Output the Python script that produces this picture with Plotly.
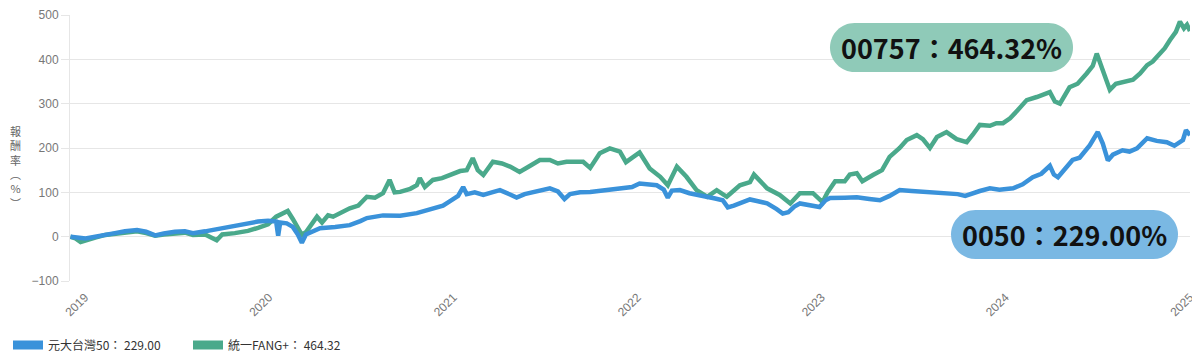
import plotly.graph_objects as go

# ---------------- data ----------------
dates_0050 = [
    "2019-01-02", "2019-01-17", "2019-02-01", "2019-02-20", "2019-03-12", "2019-03-31", "2019-04-20",
    "2019-05-14", "2019-06-01", "2019-06-19", "2019-07-06", "2019-07-28", "2019-08-17", "2019-09-02",
    "2019-09-26", "2019-10-15", "2019-11-05", "2019-11-28", "2019-12-20", "2020-01-09", "2020-01-29",
    "2020-02-14", "2020-02-18", "2020-02-22", "2020-03-06", "2020-03-18", "2020-03-28", "2020-04-05",
    "2020-04-13", "2020-04-25", "2020-05-11", "2020-06-10", "2020-07-09", "2020-07-30", "2020-08-12",
    "2020-09-13", "2020-10-17", "2020-11-19", "2020-12-21", "2021-01-10", "2021-01-24", "2021-02-09",
    "2021-02-19", "2021-02-26", "2021-03-14", "2021-03-31", "2021-04-17", "2021-05-03", "2021-05-23",
    "2021-06-05", "2021-06-21", "2021-07-08", "2021-07-25", "2021-08-10", "2021-08-26", "2021-09-08",
    "2021-09-19", "2021-10-09", "2021-10-29", "2021-11-17", "2021-12-07", "2022-01-02", "2022-01-20",
    "2022-02-04", "2022-02-24", "2022-03-10", "2022-03-24", "2022-04-01", "2022-04-09", "2022-04-25",
    "2022-05-14", "2022-05-28", "2022-06-18", "2022-07-04", "2022-07-19", "2022-07-29", "2022-08-10",
    "2022-08-22", "2022-09-11", "2022-09-27", "2022-10-15", "2022-11-03", "2022-11-15", "2022-11-26",
    "2022-12-08", "2022-12-19", "2023-01-08", "2023-01-27", "2023-02-08", "2023-02-17", "2023-03-18",
    "2023-04-11", "2023-05-06", "2023-05-27", "2023-06-15", "2023-07-05", "2023-07-29", "2023-08-20",
    "2023-09-13", "2023-10-06", "2023-10-28", "2023-11-12", "2023-11-21", "2023-12-11", "2023-12-31",
    "2024-01-19", "2024-02-15", "2024-03-05", "2024-03-25", "2024-04-11", "2024-04-28", "2024-05-06",
    "2024-05-14", "2024-05-27", "2024-06-12", "2024-06-26", "2024-07-16", "2024-08-01", "2024-08-11",
    "2024-08-21", "2024-08-31", "2024-09-19", "2024-10-03", "2024-10-18", "2024-11-07", "2024-11-26",
    "2024-12-16", "2024-12-31", "2025-01-17", "2025-01-23", "2025-01-31",
]
values_0050 = [
    0, -2, -4, 0, 5, 8, 12,
    15, 11, 3, 7, 11, 12, 8,
    12, 16, 21, 26, 29, 34, 36,
    34, 2, 32, 30, 22, 5, -14,
    5, 12, 19, 22, 26, 35, 42,
    48, 47, 53, 64, 70, 80, 92,
    112, 96, 100, 94, 100, 105, 95,
    88, 96, 100, 104, 109, 102, 85,
    96, 100, 101, 104, 106, 109, 112,
    120, 117, 116, 106, 88, 104, 105,
    98, 94, 90, 86, 82, 66, 70,
    76, 84, 80, 75, 62, 52, 55,
    68, 75, 72, 67, 82, 87, 88,
    89, 85, 82, 92, 105, 103, 101,
    100, 98, 96, 92, 96, 103, 109,
    106, 109, 118, 134, 142, 160, 140,
    134, 150, 173, 178, 206, 236, 210,
    172, 185, 195, 192, 199, 222, 216,
    213, 205, 218, 240, 229,
]

dates_00757 = [
    "2019-01-02", "2019-01-12", "2019-01-22", "2019-02-01", "2019-02-20", "2019-03-12", "2019-04-10",
    "2019-05-14", "2019-06-01", "2019-06-19", "2019-07-06", "2019-07-28", "2019-08-17", "2019-09-02",
    "2019-09-26", "2019-10-19", "2019-10-30", "2019-11-24", "2019-12-20", "2020-01-09", "2020-01-29",
    "2020-02-14", "2020-02-28", "2020-03-08", "2020-03-18", "2020-03-28", "2020-04-05", "2020-04-13",
    "2020-04-25", "2020-05-05", "2020-05-15", "2020-05-27", "2020-06-06", "2020-06-19", "2020-07-09",
    "2020-07-26", "2020-08-12", "2020-08-28", "2020-09-13", "2020-09-26", "2020-10-06", "2020-10-17",
    "2020-11-06", "2020-11-19", "2020-11-25", "2020-12-05", "2020-12-21", "2021-01-08", "2021-01-24",
    "2021-02-13", "2021-02-26", "2021-03-10", "2021-03-20", "2021-03-31", "2021-04-19", "2021-05-07",
    "2021-05-23", "2021-06-11", "2021-07-02", "2021-07-21", "2021-08-10", "2021-08-26", "2021-09-12",
    "2021-10-15", "2021-10-29", "2021-11-17", "2021-12-07", "2021-12-27", "2022-01-08", "2022-01-22",
    "2022-02-04", "2022-02-24", "2022-03-17", "2022-04-01", "2022-04-19", "2022-05-08", "2022-05-28",
    "2022-06-18", "2022-07-07", "2022-07-27", "2022-08-22", "2022-09-11", "2022-09-19", "2022-10-15",
    "2022-11-09", "2022-11-30", "2022-12-19", "2023-01-14", "2023-02-02", "2023-02-12", "2023-02-27",
    "2023-03-18", "2023-03-28", "2023-04-11", "2023-04-22", "2023-05-13", "2023-05-31", "2023-06-15",
    "2023-07-05", "2023-07-19", "2023-08-08", "2023-08-20", "2023-09-03", "2023-09-17", "2023-10-06",
    "2023-10-26", "2023-11-15", "2023-11-27", "2023-12-11", "2023-12-31", "2024-01-13", "2024-01-26",
    "2024-02-09", "2024-02-24", "2024-03-13", "2024-04-02", "2024-04-14", "2024-04-28", "2024-05-08",
    "2024-05-18", "2024-06-06", "2024-06-22", "2024-07-10", "2024-07-22", "2024-07-30", "2024-08-11",
    "2024-08-25", "2024-09-06", "2024-09-19", "2024-10-10", "2024-10-24", "2024-11-07", "2024-11-18",
    "2024-12-02", "2024-12-12", "2024-12-22", "2025-01-03", "2025-01-11", "2025-01-19", "2025-01-25",
    "2025-01-31",
]
values_00757 = [
    0, -4, -12, -8, -2, 4, 8,
    12, 8, 2, 5, 8, 9, 4,
    5, -8, 5, 8, 13, 20, 28,
    45, 52, 58, 40, 20, 4, 10,
    30, 45, 32, 48, 45, 52, 64,
    70, 90, 88, 98, 128, 100, 101,
    108, 116, 132, 112, 128, 132, 139,
    148, 150, 177, 150, 139, 169, 165,
    158, 146, 160, 173, 173, 165, 169,
    169, 155, 188, 199, 192, 168, 180,
    190, 154, 135, 116, 158, 135, 105,
    90, 105, 90, 116, 123, 140, 109,
    94, 75, 98, 98, 78, 100, 125,
    125, 140, 143, 125, 139, 150, 180,
    200, 218, 229, 220, 200, 225, 236,
    220, 213, 230, 252, 250, 256, 256,
    267, 285, 308, 315, 320, 326, 305,
    300, 337, 345, 368, 385, 413, 372,
    331, 345, 349, 354, 368, 387, 395,
    413, 425, 443, 462, 485, 470, 478,
    464,
]

legend_names = ["元大台灣50： 229.00", "統一FANG+： 464.32"]
badge_texts = ["0050：229.00%", "00757：464.32%"]
y_title_chars = ["報", "酬", "率", "︵", "%", "︶"]
y_ticks = [-100, 0, 100, 200, 300, 400, 500]
x_ticks = ["2019-01-01", "2020-01-01", "2021-01-01", "2022-01-01", "2023-01-01", "2024-01-01", "2025-01-01"]
x_tick_labels = ["2019", "2020", "2021", "2022", "2023", "2024", "2025"]

# ---------------- styling ----------------
BLUE = "#3a92da"
GREEN = "#4aa98b"
BLUE_BADGE = "#7ab8e3"
GREEN_BADGE = "#8fcab8"

OFF = 8                      # the page body margin that offsets the figure
PAGE_W, PAGE_H = 1200, 363
W, H = PAGE_W - OFF, PAGE_H - OFF
# plot area in page pixels: x 70..1190, y 15..281
PL, PR, PT, PB = 70, 1190, 15, 281
ML, MR, MT, MB = PL - OFF, (OFF + W) - PR, PT - OFF, (OFF + H) - PB
PW, PH = PR - PL, PB - PT


def px2paper(px, py):
    """page pixel -> paper coordinates"""
    return (px - PL) / PW, (PB - py) / PH


def stadium(x0, y0, x1, y1):
    r = (y1 - y0) / 2.0
    k = 0.5523 * r
    pts = [
        ("M", [(x0 + r, y0)]),
        ("L", [(x1 - r, y0)]),
        ("C", [(x1 - r + k, y0), (x1, y0 + r - k), (x1, y0 + r)]),
        ("C", [(x1, y0 + r + k), (x1 - r + k, y1), (x1 - r, y1)]),
        ("L", [(x0 + r, y1)]),
        ("C", [(x0 + r - k, y1), (x0, y0 + r + k), (x0, y0 + r)]),
        ("C", [(x0, y0 + r - k), (x0 + r - k, y0), (x0 + r, y0)]),
    ]
    out = []
    for cmd, plist in pts:
        coords = []
        for (a, b) in plist:
            u, v = px2paper(a, b)
            coords.append(f"{u:.5f},{v:.5f}")
        out.append(cmd + " ".join(coords))
    return " ".join(out) + " Z"


fig = go.Figure()
fig.add_trace(go.Scatter(x=dates_00757, y=values_00757, mode="lines", name="統一FANG+",
                         line=dict(color=GREEN, width=4.5), showlegend=False, hoverinfo="skip"))
fig.add_trace(go.Scatter(x=dates_0050, y=values_0050, mode="lines", name="元大台灣50",
                         line=dict(color=BLUE, width=4.5), showlegend=False, hoverinfo="skip"))

# legend entries
fig.add_trace(go.Scatter(x=[None], y=[None], mode="lines", name=legend_names[0],
                         line=dict(color=BLUE, width=9)))
fig.add_trace(go.Scatter(x=[None], y=[None], mode="lines", name=legend_names[1],
                         line=dict(color=GREEN, width=9)))

shapes = [
    dict(type="path", xref="paper", yref="paper", path=stadium(830, 23, 1073, 72),
         fillcolor=GREEN_BADGE, line=dict(width=0), layer="above"),
    dict(type="path", xref="paper", yref="paper", path=stadium(951, 210, 1178, 259),
         fillcolor=BLUE_BADGE, line=dict(width=0), layer="above"),
]

gx, gy = px2paper(951.5, 47.5)
bx, by = px2paper(1064.5, 234.5)
annotations = [
    dict(text=f"<b>{badge_texts[1]}</b>", x=gx, y=gy, xref="paper", yref="paper",
         showarrow=False, xanchor="center", yanchor="middle",
         font=dict(family="Noto Sans CJK TC", size=27, color="#111")),
    dict(text=f"<b>{badge_texts[0]}</b>", x=bx, y=by, xref="paper", yref="paper",
         showarrow=False, xanchor="center", yanchor="middle",
         font=dict(family="Noto Sans CJK TC", size=27, color="#111")),
]
tx, ty = px2paper(15, 167)
annotations.append(dict(text="<br>".join(y_title_chars), x=tx, y=ty,
                        xref="paper", yref="paper", showarrow=False,
                        xanchor="center", yanchor="middle",
                        font=dict(family="Noto Sans CJK TC", size=11, color="#666")))

lx, ly = px2paper(OFF, 345)
fig.update_layout(
    width=W, height=H,
    margin=dict(l=ML, r=MR, t=MT, b=MB, autoexpand=False),
    paper_bgcolor="white", plot_bgcolor="white",
    shapes=shapes, annotations=annotations,
    showlegend=True,
    legend=dict(orientation="h", x=lx, xanchor="left", y=ly, yanchor="middle",
                font=dict(family="Noto Sans CJK TC", size=12, color="#333"),
                entrywidth=135, entrywidthmode="pixels", itemwidth=30,
                bgcolor="rgba(0,0,0,0)"),
    xaxis=dict(type="date", range=["2019-01-01", "2025-01-31"], automargin=False,
               tickvals=x_ticks, ticktext=x_tick_labels, tickangle=-45,
               showgrid=False, zeroline=False, showline=False,
               ticklabelshift=15, ticklabelstandoff=6, ticklabeloverflow="allow",
               tickfont=dict(family="Liberation Sans", size=12, color="#777")),
    yaxis=dict(range=[-100, 500], tickvals=y_ticks, showgrid=True, gridcolor="#e6e6e6",
               automargin=False,
               gridwidth=1, zeroline=False, showline=True, linecolor="#e6e6e6",
               ticks="outside", ticklen=8, tickcolor="#e6e6e6",
               tickfont=dict(family="Liberation Sans", size=12, color="#777")),
)

fig.write_html("out.html")
